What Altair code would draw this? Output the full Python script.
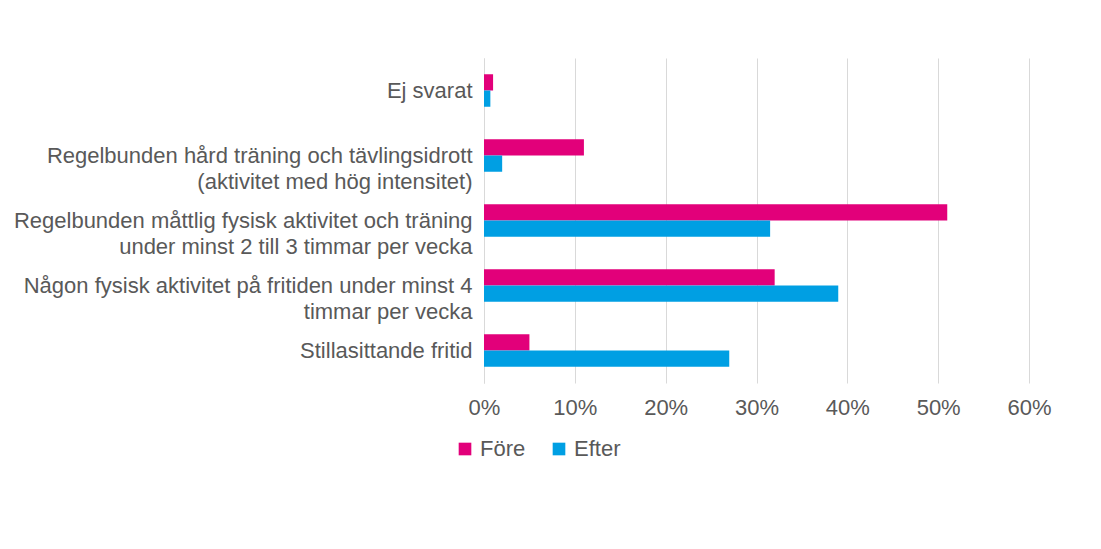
import altair as alt
import pandas as pd

# Categories (top to bottom); "|" marks a line break in the axis label
categories = [
    "Ej svarat",
    "Regelbunden hård träning och tävlingsidrott|(aktivitet med hög intensitet)",
    "Regelbunden måttlig fysisk aktivitet och träning|under minst 2 till 3 timmar per vecka",
    "Någon fysisk aktivitet på fritiden under minst 4|timmar per vecka",
    "Stillasittande fritid",
]
series = ["Före", "Efter"]
fore_values = [0.01, 0.11, 0.51, 0.32, 0.05]
efter_values = [0.007, 0.02, 0.315, 0.39, 0.27]
x_ticks = [0.0, 0.1, 0.2, 0.3, 0.4, 0.5, 0.6]
colors = ["#E2007A", "#009FE3"]

rows = []
for cat, f, e in zip(categories, fore_values, efter_values):
    rows.append({"kategori": cat, "serie": "Före", "andel": f})
    rows.append({"kategori": cat, "serie": "Efter", "andel": e})
df = pd.DataFrame(rows)

TEXT = "#595959"
GRID = "#d9d9d9"
FONT = "Liberation Sans"
FS = 22

chart = (
    alt.Chart(df)
    .mark_bar()
    .encode(
        y=alt.Y(
            "kategori:N",
            sort=categories,
            scale=alt.Scale(paddingInner=0.5, paddingOuter=0.25),
            axis=alt.Axis(
                title=None,
                labelExpr="split(datum.label, '|')",
                labelFontSize=FS,
                labelColor=TEXT,
                labelFont=FONT,
                labelLimit=0,
                labelLineHeight=26,
                labelPadding=12,
                domainColor=GRID,
                ticks=False,
            ),
        ),
        yOffset=alt.YOffset("serie:N", sort=series),
        x=alt.X(
            "andel:Q",
            scale=alt.Scale(domain=[0, 0.6]),
            axis=alt.Axis(
                values=x_ticks,
                format=".0%",
                title=None,
                grid=True,
                gridColor=GRID,
                domain=False,
                ticks=False,
                labelFlush=False,
                labelOverlap=False,
                labelFontSize=FS,
                labelColor=TEXT,
                labelFont=FONT,
                labelPadding=14,
            ),
        ),
        color=alt.Color(
            "serie:N",
            sort=series,
            scale=alt.Scale(domain=series, range=colors),
            legend=alt.Legend(
                title=None,
                orient="none",
                legendX=-30,
                legendY=380,
                direction="horizontal",
                symbolType="square",
                symbolSize=160,
                symbolStrokeWidth=0,
                labelFontSize=FS,
                labelColor=TEXT,
                labelFont=FONT,
                columnPadding=22,
            ),
        ),
    )
    .properties(
        width=545,
        height=325,
        padding={"left": 5, "top": 50, "right": 5, "bottom": 5},
    )
    .configure_view(stroke=None)
)

chart.save("out.html", embed_options={"renderer": "svg", "actions": False})
